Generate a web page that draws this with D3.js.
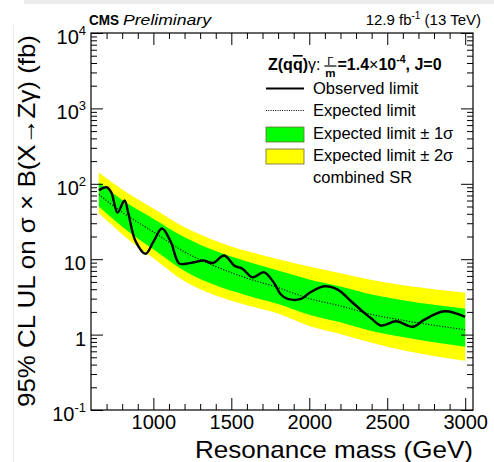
<!DOCTYPE html>
<html><head><meta charset="utf-8">
<script src="https://cdn.jsdelivr.net/npm/d3@7"></script>
<style>
body{margin:0;background:#fff}
svg{display:block}
text{font-family:"Liberation Sans",Arial,Helvetica,sans-serif;fill:#000}
</style>
</head><body>
<svg id="c" width="494" height="462"></svg>
<script>
// ---------------- data ----------------
const bandMass = [650, 800, 1000, 1200, 1400, 1600, 1800, 2000, 2200, 2400, 2600, 2800, 3000];
const expected = [72, 42, 23, 12.5, 8.0, 5.6, 4.2, 3.0, 2.4, 1.85, 1.55, 1.33, 1.16];
const plus2sig = [141, 84, 47, 26.5, 17.5, 12.8, 10.0, 8.0, 6.5, 5.3, 4.5, 4.0, 3.6];
const plus1sig = [104, 61, 34.5, 19.5, 12.8, 9.3, 7.1, 5.4, 4.35, 3.4, 2.85, 2.48, 2.2];
const minus1sig = [50, 27, 13.5, 7.0, 4.5, 3.3, 2.55, 1.84, 1.46, 1.12, 0.93, 0.79, 0.69];
const minus2sig = [41, 21.5, 10.3, 5.1, 3.3, 2.45, 1.9, 1.3, 1.02, 0.78, 0.62, 0.52, 0.45];

const obsMass = [650, 700, 730, 770, 815, 840, 885, 950, 1000, 1055, 1110, 1165, 1210, 1260, 1325, 1380, 1455, 1520, 1570, 1636, 1710, 1775, 1818, 1861, 1946, 2000, 2096, 2182, 2268, 2353, 2400, 2460, 2557, 2664, 2739, 2867, 3000];
const obsValue = [82, 90, 77, 41.5, 60, 40, 17.5, 11.8, 17, 25.5, 17.3, 8.8, 8.7, 9.1, 9.6, 8.9, 11.2, 8.2, 7.5, 5.75, 6.7, 4.8, 3.4, 2.97, 2.97, 3.57, 4.37, 3.95, 2.77, 1.94, 1.62, 1.32, 1.50, 1.27, 1.58, 2.04, 1.72];

const xMajorTicks = [1000, 1500, 2000, 2500, 3000];
const xTickLabels = ["1000", "1500", "2000", "2500", "3000"];
const yMajorTicks = [0.1, 1, 10, 100, 1000, 10000];
const yTickBase = ["10", "1", "10", "10", "10", "10"];
const yTickExp = ["-1", "", "", "2", "3", "4"];

const legendLabels = ["Observed limit", "Expected limit", "Expected limit \u00b1 1\u03c3", "Expected limit \u00b1 2\u03c3", "combined SR"];
const xTitle = "Resonance mass (GeV)";
const yTitle = "95% CL UL on \u03c3 \u00d7 B(X\u2192Z\u03b3) (fb)";

// ---------------- layout ----------------
const svg = d3.select("#c");
const L = 91, R = 473, T = 33, B = 410;
const x = d3.scaleLinear().domain([600, 3050]).range([L, R]);
const y = d3.scaleLog().domain([0.1, 10000]).range([B, T]);

// page artifacts (light grey border strips)
svg.append("rect").attr("x", 24).attr("y", 0).attr("width", 470).attr("height", 4).attr("fill", "#ececec");
svg.append("line").attr("x1", 13.5).attr("x2", 13.5).attr("y1", 25).attr("y2", 462).attr("stroke", "#ededed");

// bands
const bandData = bandMass.map((m, i) => ({m, e: expected[i], p2: plus2sig[i], p1: plus1sig[i], m1: minus1sig[i], m2: minus2sig[i]}));
const area = (lo, hi) => d3.area().x(d => x(d.m)).y0(d => y(d[lo])).y1(d => y(d[hi])).curve(d3.curveMonotoneX);
svg.append("path").datum(bandData).attr("d", area("m2", "p2")).attr("fill", "#ffff00");
svg.append("path").datum(bandData).attr("d", area("m1", "p1")).attr("fill", "#00ff00");
svg.append("path").datum(bandData)
  .attr("d", d3.line().x(d => x(d.m)).y(d => y(d.e)).curve(d3.curveMonotoneX))
  .attr("fill", "none").attr("stroke", "#000").attr("stroke-width", 1.1).attr("stroke-dasharray", "1.2,1.6");

// observed
const obsData = obsMass.map((m, i) => ({m, v: obsValue[i]}));
svg.append("path").datum(obsData)
  .attr("d", d3.line().x(d => x(d.m)).y(d => y(d.v)).curve(d3.curveCatmullRom.alpha(0.5)))
  .attr("fill", "none").attr("stroke", "#000").attr("stroke-width", 2.4).attr("stroke-linejoin", "round");

// axes
const xMinor = d3.range(700, 3050, 100).filter(v => !xMajorTicks.includes(v));
const yMinor = [];
[0.1, 1, 10, 100, 1000].forEach(d => d3.range(2, 10).forEach(k => yMinor.push(d * k)));

function axisG(axis, tx, ty) {
  const g = svg.append("g").attr("transform", `translate(${tx},${ty})`).call(axis);
  g.select(".domain").remove();
  g.selectAll(".tick line").attr("stroke", "#000").attr("stroke-width", 1);
  return g;
}
// bottom
const gx = axisG(d3.axisBottom(x).tickValues(xMajorTicks).tickFormat((d, i) => xTickLabels[i]).tickSizeInner(-12).tickSizeOuter(0).tickPadding(5), 0, B);
gx.selectAll("text").attr("font-size", 20).attr("font-family", null);
axisG(d3.axisBottom(x).tickValues(xMinor).tickFormat("").tickSizeInner(-6).tickSizeOuter(0), 0, B);
// top
axisG(d3.axisTop(x).tickValues(xMajorTicks).tickFormat("").tickSizeInner(-12).tickSizeOuter(0), 0, T);
axisG(d3.axisTop(x).tickValues(xMinor).tickFormat("").tickSizeInner(-6).tickSizeOuter(0), 0, T);
// left
axisG(d3.axisLeft(y).tickValues(yMajorTicks).tickFormat("").tickSizeInner(-12).tickSizeOuter(0), L, 0);
axisG(d3.axisLeft(y).tickValues(yMinor).tickFormat("").tickSizeInner(-6).tickSizeOuter(0), L, 0);
// right
axisG(d3.axisRight(y).tickValues(yMajorTicks).tickFormat("").tickSizeInner(-12).tickSizeOuter(0), R, 0);
axisG(d3.axisRight(y).tickValues(yMinor).tickFormat("").tickSizeInner(-6).tickSizeOuter(0), R, 0);

// frame
svg.append("rect").attr("x", L).attr("y", T).attr("width", R - L).attr("height", B - T)
  .attr("fill", "none").attr("stroke", "#000").attr("stroke-width", 1.2);

// y tick labels
yMajorTicks.forEach((v, i) => {
  const t = svg.append("text").attr("x", 86).attr("y", y(v) + 11).attr("text-anchor", "end").attr("font-size", 20);
  t.append("tspan").text(yTickBase[i]);
  if (yTickExp[i]) t.append("tspan").attr("dy", -9).attr("font-size", 13).text(yTickExp[i]);
});

// axis titles
svg.append("text").attr("x", R).attr("y", 458).attr("text-anchor", "end").attr("font-size", 24)
  .attr("textLength", 278).attr("lengthAdjust", "spacingAndGlyphs").text(xTitle);
svg.append("text").attr("transform", "translate(35,221) rotate(-90)").attr("text-anchor", "middle")
  .attr("font-size", 24).attr("textLength", 372).attr("lengthAdjust", "spacingAndGlyphs").text(yTitle);

// header
svg.append("text").attr("x", 89).attr("y", 25).attr("font-size", 15.5).attr("font-weight", "bold")
  .attr("textLength", 30).attr("lengthAdjust", "spacingAndGlyphs").text("CMS");
svg.append("text").attr("x", 123).attr("y", 25)
  .attr("font-size", 14.5).attr("font-style", "italic").attr("textLength", 88).attr("lengthAdjust", "spacingAndGlyphs").text("Preliminary");
const lumi = svg.append("text").attr("x", 481).attr("y", 25).attr("text-anchor", "end").attr("font-size", 15);
lumi.append("tspan").text("12.9 fb");
lumi.append("tspan").attr("dy", -6).attr("font-size", 10).text("-1");
lumi.append("tspan").attr("dy", 6).text(" (13 TeV)");

// legend
const lx0 = 266, lx1 = 304, tx = 313;
svg.append("line").attr("x1", lx0).attr("x2", lx1).attr("y1", 88.5).attr("y2", 88.5).attr("stroke", "#000").attr("stroke-width", 2);
svg.append("line").attr("x1", lx0).attr("x2", lx1).attr("y1", 110.5).attr("y2", 110.5).attr("stroke", "#000").attr("stroke-width", 1).attr("stroke-dasharray", "1,1.3");
svg.append("rect").attr("x", lx0).attr("y", 127).attr("width", lx1 - lx0).attr("height", 15).attr("fill", "#00ff00").attr("stroke", "#6a6a3a").attr("stroke-width", 0.8);
svg.append("rect").attr("x", lx0).attr("y", 149).attr("width", lx1 - lx0).attr("height", 15).attr("fill", "#ffff00").attr("stroke", "#6a6a3a").attr("stroke-width", 0.8);
const legY = [94, 116, 139, 161, 183];
legendLabels.forEach((s, i) => svg.append("text").attr("x", tx).attr("y", legY[i]).attr("font-size", 16.5).text(s));

// legend header: Z(qq̄)γ: Γ/m = 1.4×10^-4, J=0
const hy = 70;
let hx = 268;
const h1 = svg.append("text").attr("x", hx).attr("y", hy).attr("font-size", 16).attr("font-weight", "bold");
h1.append("tspan").text("Z(q");
h1.append("tspan").attr("text-decoration", "overline").text("q");
h1.append("tspan").text(")");
h1.append("tspan").attr("font-weight", "normal").text("\u03b3:");
hx += h1.node().getComputedTextLength() + 4;
svg.append("text").attr("x", hx + 6).attr("y", hy - 5.5).attr("text-anchor", "middle").attr("font-size", 11.5).text("\u0393");
svg.append("text").attr("x", hx + 6).attr("y", hy + 7).attr("text-anchor", "middle").attr("font-size", 11.5).attr("font-weight", "bold").text("m");
svg.append("line").attr("x1", hx).attr("x2", hx + 12).attr("y1", hy - 4).attr("y2", hy - 4).attr("stroke", "#000").attr("stroke-width", 1.2);
hx += 13;
const h2 = svg.append("text").attr("x", hx).attr("y", hy).attr("font-size", 16).attr("font-weight", "bold");
h2.append("tspan").text("=1.4");
h2.append("tspan").attr("font-weight", "normal").text("\u00d7");
h2.append("tspan").text("10");
h2.append("tspan").attr("dy", -7).attr("font-size", 10.5).text("-4");
h2.append("tspan").attr("dy", 7).text(", J=0");
</script>
</body></html>
